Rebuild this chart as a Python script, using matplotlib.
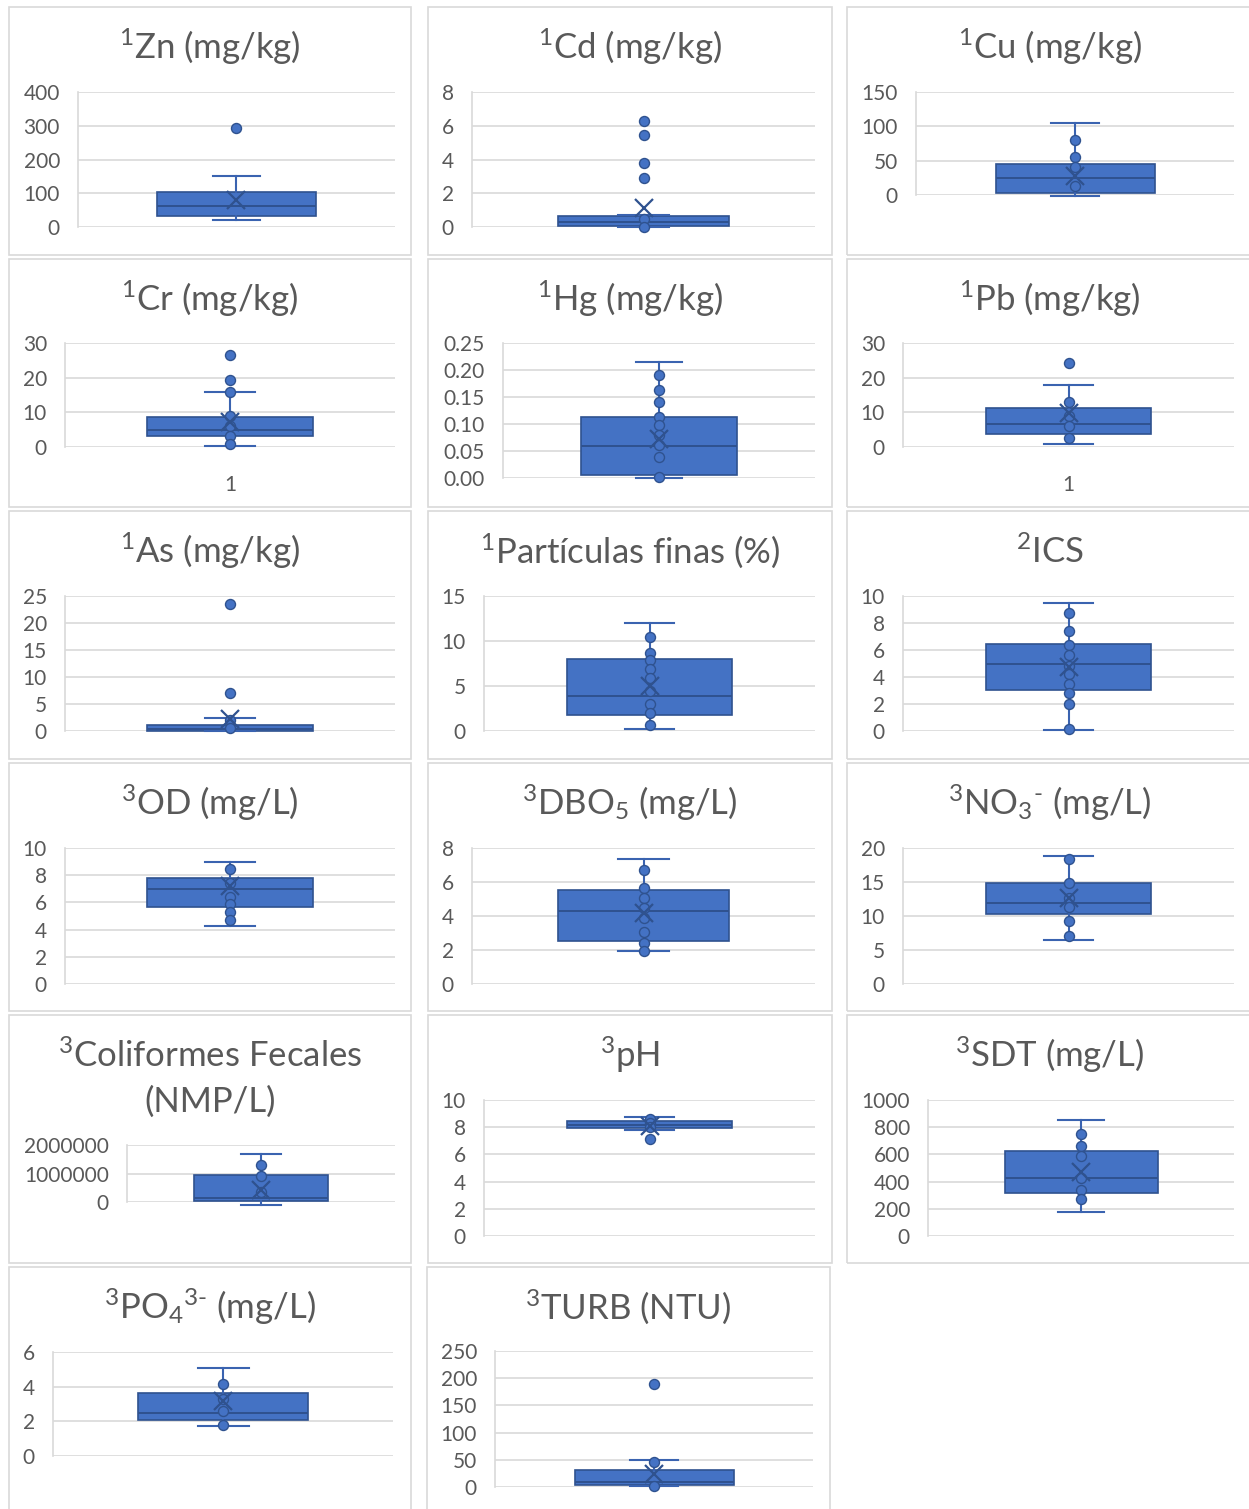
import matplotlib
matplotlib.use("Agg")
import matplotlib.pyplot as plt
from matplotlib.patches import Rectangle

plt.rcParams['font.family'] = ['Lato', 'DejaVu Sans']
plt.rcParams['mathtext.fontset'] = 'custom'
plt.rcParams['mathtext.rm'] = 'Lato'
plt.rcParams['mathtext.it'] = 'Lato:italic'
plt.rcParams['mathtext.bf'] = 'Lato:bold'
plt.rcParams['mathtext.default'] = 'rm'

# ---- data: [whisker low, Q1, median, Q3, whisker high], mean, sample points ----
zn_box = [22, 34, 61, 104, 151]
zn_mean = 79
zn_pts = [293]

cd_box = [0.02, 0.05, 0.30, 0.65, 0.72]
cd_mean = 1.13
cd_pts = [6.30, 5.48, 3.77, 2.91, 0.49, 0.02]

cu_box = [-2, 2.4, 25.4, 45, 104.5]
cu_mean = 28
cu_pts = [80, 55, 41.5, 13]

cr_box = [0.3, 3.1, 5.0, 8.6, 15.9]
cr_mean = 7.3
cr_pts = [26.6, 19.2, 15.9, 8.9, 6.0, 3.3, 1.0]

hg_box = [0.0, 0.006, 0.060, 0.1135, 0.2146]
hg_mean = 0.072
hg_pts = [0.191, 0.163, 0.141, 0.113, 0.098, 0.079, 0.061, 0.038, 0.002]

pb_box = [0.9, 3.7, 6.6, 11.3, 18.0]
pb_mean = 9.8
pb_pts = [24.2, 13.0, 9.0, 6.0, 2.6]

as_box = [0.0, 0.05, 0.4, 1.1, 2.4]
as_mean = 2.2
as_pts = [23.5, 7.0, 2.0, 0.5]

pf_box = [0.26, 1.73, 3.87, 8.0, 12.0]
pf_mean = 5.05
pf_pts = [10.5, 8.7, 7.85, 6.9, 5.86, 4.5, 3.0, 2.0, 0.63]

ics_box = [0.1, 3.04, 4.94, 6.42, 9.5]
ics_mean = 4.74
ics_pts = [8.72, 7.4, 6.4, 5.63, 4.8, 4.2, 3.46, 2.84, 2.02, 0.15]

od_box = [4.3, 5.66, 6.98, 7.8, 8.97]
od_mean = 7.2
od_pts = [8.46, 7.4, 6.4, 5.9, 5.3, 4.7]

dbo_box = [1.92, 2.53, 4.31, 5.51, 7.33]
dbo_mean = 4.2
dbo_pts = [6.68, 5.65, 5.04, 4.5, 3.9, 3.08, 2.43, 1.94]

no3_box = [6.42, 10.27, 11.85, 14.86, 18.8]
no3_mean = 12.7
no3_pts = [18.4, 14.8, 12.6, 11.26, 9.28, 7.06]

cf_box = [-90000, 20000, 140000, 950000, 1700000]
cf_mean = 430000
cf_pts = [1290000, 920000, 340000]

ph_box = [7.8, 7.95, 8.15, 8.45, 8.75]
ph_mean = 8.1
ph_pts = [8.6, 8.3, 8.0, 7.1]

sdt_box = [174, 319, 423, 622, 853]
sdt_mean = 474
sdt_pts = [749, 663, 585, 423, 339, 270]

po4_box = [1.73, 2.1, 2.48, 3.63, 5.08]
po4_mean = 3.2
po4_pts = [4.15, 3.3, 2.6, 1.78]

turb_box = [1.8, 4.3, 9.0, 30.5, 48.8]
turb_mean = 24.4
turb_pts = [190, 45.7, 1.8]

# ---- axis tick values ----
zn_ticks = [0, 100, 200, 300, 400]
cd_ticks = [0, 2, 4, 6, 8]
cu_ticks = [0, 50, 100, 150]
cr_ticks = [0, 10, 20, 30]
hg_ticks = [0.00, 0.05, 0.10, 0.15, 0.20, 0.25]
pb_ticks = [0, 10, 20, 30]
as_ticks = [0, 5, 10, 15, 20, 25]
pf_ticks = [0, 5, 10, 15]
ics_ticks = [0, 2, 4, 6, 8, 10]
od_ticks = [0, 2, 4, 6, 8, 10]
dbo_ticks = [0, 2, 4, 6, 8]
no3_ticks = [0, 5, 10, 15, 20]
cf_ticks = [0, 1000000, 2000000]
ph_ticks = [0, 2, 4, 6, 8, 10]
sdt_ticks = [0, 200, 400, 600, 800, 1000]
po4_ticks = [0, 2, 4, 6]
turb_ticks = [0, 50, 100, 150, 200, 250]

W, H = 1249, 1509
BLUE = '#4472C4'
DARK = '#2F528F'
TXT = '#595959'
GRID = '#D9D9D9'

fig = plt.figure(figsize=(W / 100, H / 100), dpi=100)
fig.patch.set_facecolor('white')

# panel frames (x0, y0, x1, y1) in pixels from top-left
cols = [(9, 411), (428, 832), (847, 1252)]
rows = [(7, 255), (259, 507), (511, 759), (763, 1011), (1015, 1263), (1267, 1515)]


def frame(x0, y0, x1, y1):
    fig.patches.append(Rectangle((x0 / W, 1 - y1 / H), (x1 - x0) / W, (y1 - y0) / H,
                                 transform=fig.transFigure, fill=False,
                                 edgecolor=GRID, lw=1.2))


for r in range(5):
    for c in range(3):
        frame(cols[c][0], rows[r][0], cols[c][1], rows[r][1])
frame(9, rows[5][0], 411, rows[5][1])
frame(427, rows[5][0], 830, rows[5][1])


def panel(title_lines, px, rect, box, mean, pts, ticks, fmt=None, catlabel=False):
    (x0, x1), (y0, y1) = px
    left, top, right, bottom = rect
    ax = fig.add_axes([left / W, 1 - bottom / H, (right - left) / W, (bottom - top) / H])
    stats = [dict(whislo=box[0], q1=box[1], med=box[2], q3=box[3], whishi=box[4],
                  mean=mean, fliers=[])]
    art = ax.bxp(stats, positions=[1], widths=0.5, capwidths=0.15, patch_artist=True,
                 showmeans=True, showfliers=False,
                 boxprops=dict(facecolor=BLUE, edgecolor=DARK, lw=1.2),
                 medianprops=dict(color=DARK, lw=1.4),
                 whiskerprops=dict(color='#3A63B0', lw=1.5),
                 capprops=dict(color='#3A63B0', lw=1.5),
                 meanprops=dict(marker='x', markersize=13, markeredgewidth=1.6,
                                markeredgecolor=DARK))
    for group in art.values():
        for a in group:
            a.set_clip_on(False)
            a.set_zorder(3)
    ax.plot([1] * len(pts), pts, ls='none', marker='o', markersize=7.2,
            markerfacecolor=BLUE, markeredgecolor=DARK, markeredgewidth=1.0,
            clip_on=False, zorder=4)
    for m in art['means']:
        m.set_zorder(5)
    ax.set_xlim(0.5, 1.5)
    ax.set_ylim(ticks[0], ticks[-1])
    ax.set_yticks(ticks)
    if fmt is None:
        ax.set_yticklabels([f'{t:g}' if abs(t) < 1e5 else f'{int(t)}' for t in ticks])
    else:
        ax.set_yticklabels([fmt.format(t) for t in ticks])
    ax.tick_params(axis='y', length=0, pad=13, labelsize=15, labelcolor=TXT)
    if catlabel:
        ax.set_xticks([1])
        ax.set_xticklabels(['1'])
        ax.tick_params(axis='x', length=0, pad=20, labelsize=15, labelcolor=TXT)
    else:
        ax.set_xticks([])
    ax.grid(axis='y', color=GRID, lw=1.2, zorder=0)
    ax.set_axisbelow(True)
    for s in ['top', 'right', 'bottom']:
        ax.spines[s].set_visible(False)
    ax.spines['left'].set_color(GRID)
    ax.spines['left'].set_linewidth(1.2)
    ax.patch.set_alpha(0)
    # title lines
    cx = (x0 + x1) / 2 / W
    for i, line in enumerate(title_lines):
        fig.text(cx, 1 - (y0 + 52 + 45 * i) / H, line, ha='center', va='baseline',
                 fontsize=25, color=TXT)


P = lambda c, r: (cols[c], rows[r])

panel([r'$^{1}$Zn (mg/kg)'], P(0, 0), (78, 92, 395, 227), zn_box, zn_mean, zn_pts, zn_ticks)
panel([r'$^{1}$Cd (mg/kg)'], P(1, 0), (472, 92, 815, 227), cd_box, cd_mean, cd_pts, cd_ticks)
panel([r'$^{1}$Cu (mg/kg)'], P(2, 0), (916, 92, 1234, 195), cu_box, cu_mean, cu_pts, cu_ticks)

panel([r'$^{1}$Cr (mg/kg)'], P(0, 1), (65, 343, 395, 447), cr_box, cr_mean, cr_pts, cr_ticks,
      catlabel=True)
panel([r'$^{1}$Hg (mg/kg)'], P(1, 1), (503, 343, 815, 478), hg_box, hg_mean, hg_pts, hg_ticks,
      fmt='{:.2f}')
panel([r'$^{1}$Pb (mg/kg)'], P(2, 1), (903, 343, 1234, 447), pb_box, pb_mean, pb_pts, pb_ticks,
      catlabel=True)

panel([r'$^{1}$As (mg/kg)'], P(0, 2), (65, 596, 395, 731), as_box, as_mean, as_pts, as_ticks)
panel([r'$^{1}$Partículas finas (%)'], P(1, 2), (484, 596, 815, 731), pf_box, pf_mean, pf_pts,
      pf_ticks)
panel([r'$^{2}$ICS'], P(2, 2), (903, 596, 1234, 731), ics_box, ics_mean, ics_pts, ics_ticks)

panel([r'$^{3}$OD (mg/L)'], P(0, 3), (65, 848, 395, 984), od_box, od_mean, od_pts, od_ticks)
panel([r'$^{3}$DBO$_{5}$ (mg/L)'], P(1, 3), (472, 848, 815, 984), dbo_box, dbo_mean, dbo_pts,
      dbo_ticks)
panel([r'$^{3}$NO$_{3}$$^{\text{-}}$ (mg/L)'], P(2, 3), (903, 848, 1234, 984), no3_box,
      no3_mean, no3_pts, no3_ticks)

panel([r'$^{3}$Coliformes Fecales', '(NMP/L)'], P(0, 4), (127, 1145, 395, 1202), cf_box,
      cf_mean, cf_pts, cf_ticks)
panel([r'$^{3}$pH'], P(1, 4), (484, 1100, 815, 1236), ph_box, ph_mean, ph_pts, ph_ticks)
panel([r'$^{3}$SDT (mg/L)'], P(2, 4), (928, 1100, 1234, 1236), sdt_box, sdt_mean, sdt_pts,
      sdt_ticks)

panel([r'$^{3}$PO$_{4}$$^{3\text{-}}$ (mg/L)'], ((9, 411), rows[5]), (53, 1352, 393, 1456),
      po4_box, po4_mean, po4_pts, po4_ticks)
panel([r'$^{3}$TURB (NTU)'], ((427, 830), rows[5]), (495, 1351, 813, 1487), turb_box, turb_mean,
      turb_pts, turb_ticks)

fig.savefig('out.png', dpi=100, facecolor='white')
